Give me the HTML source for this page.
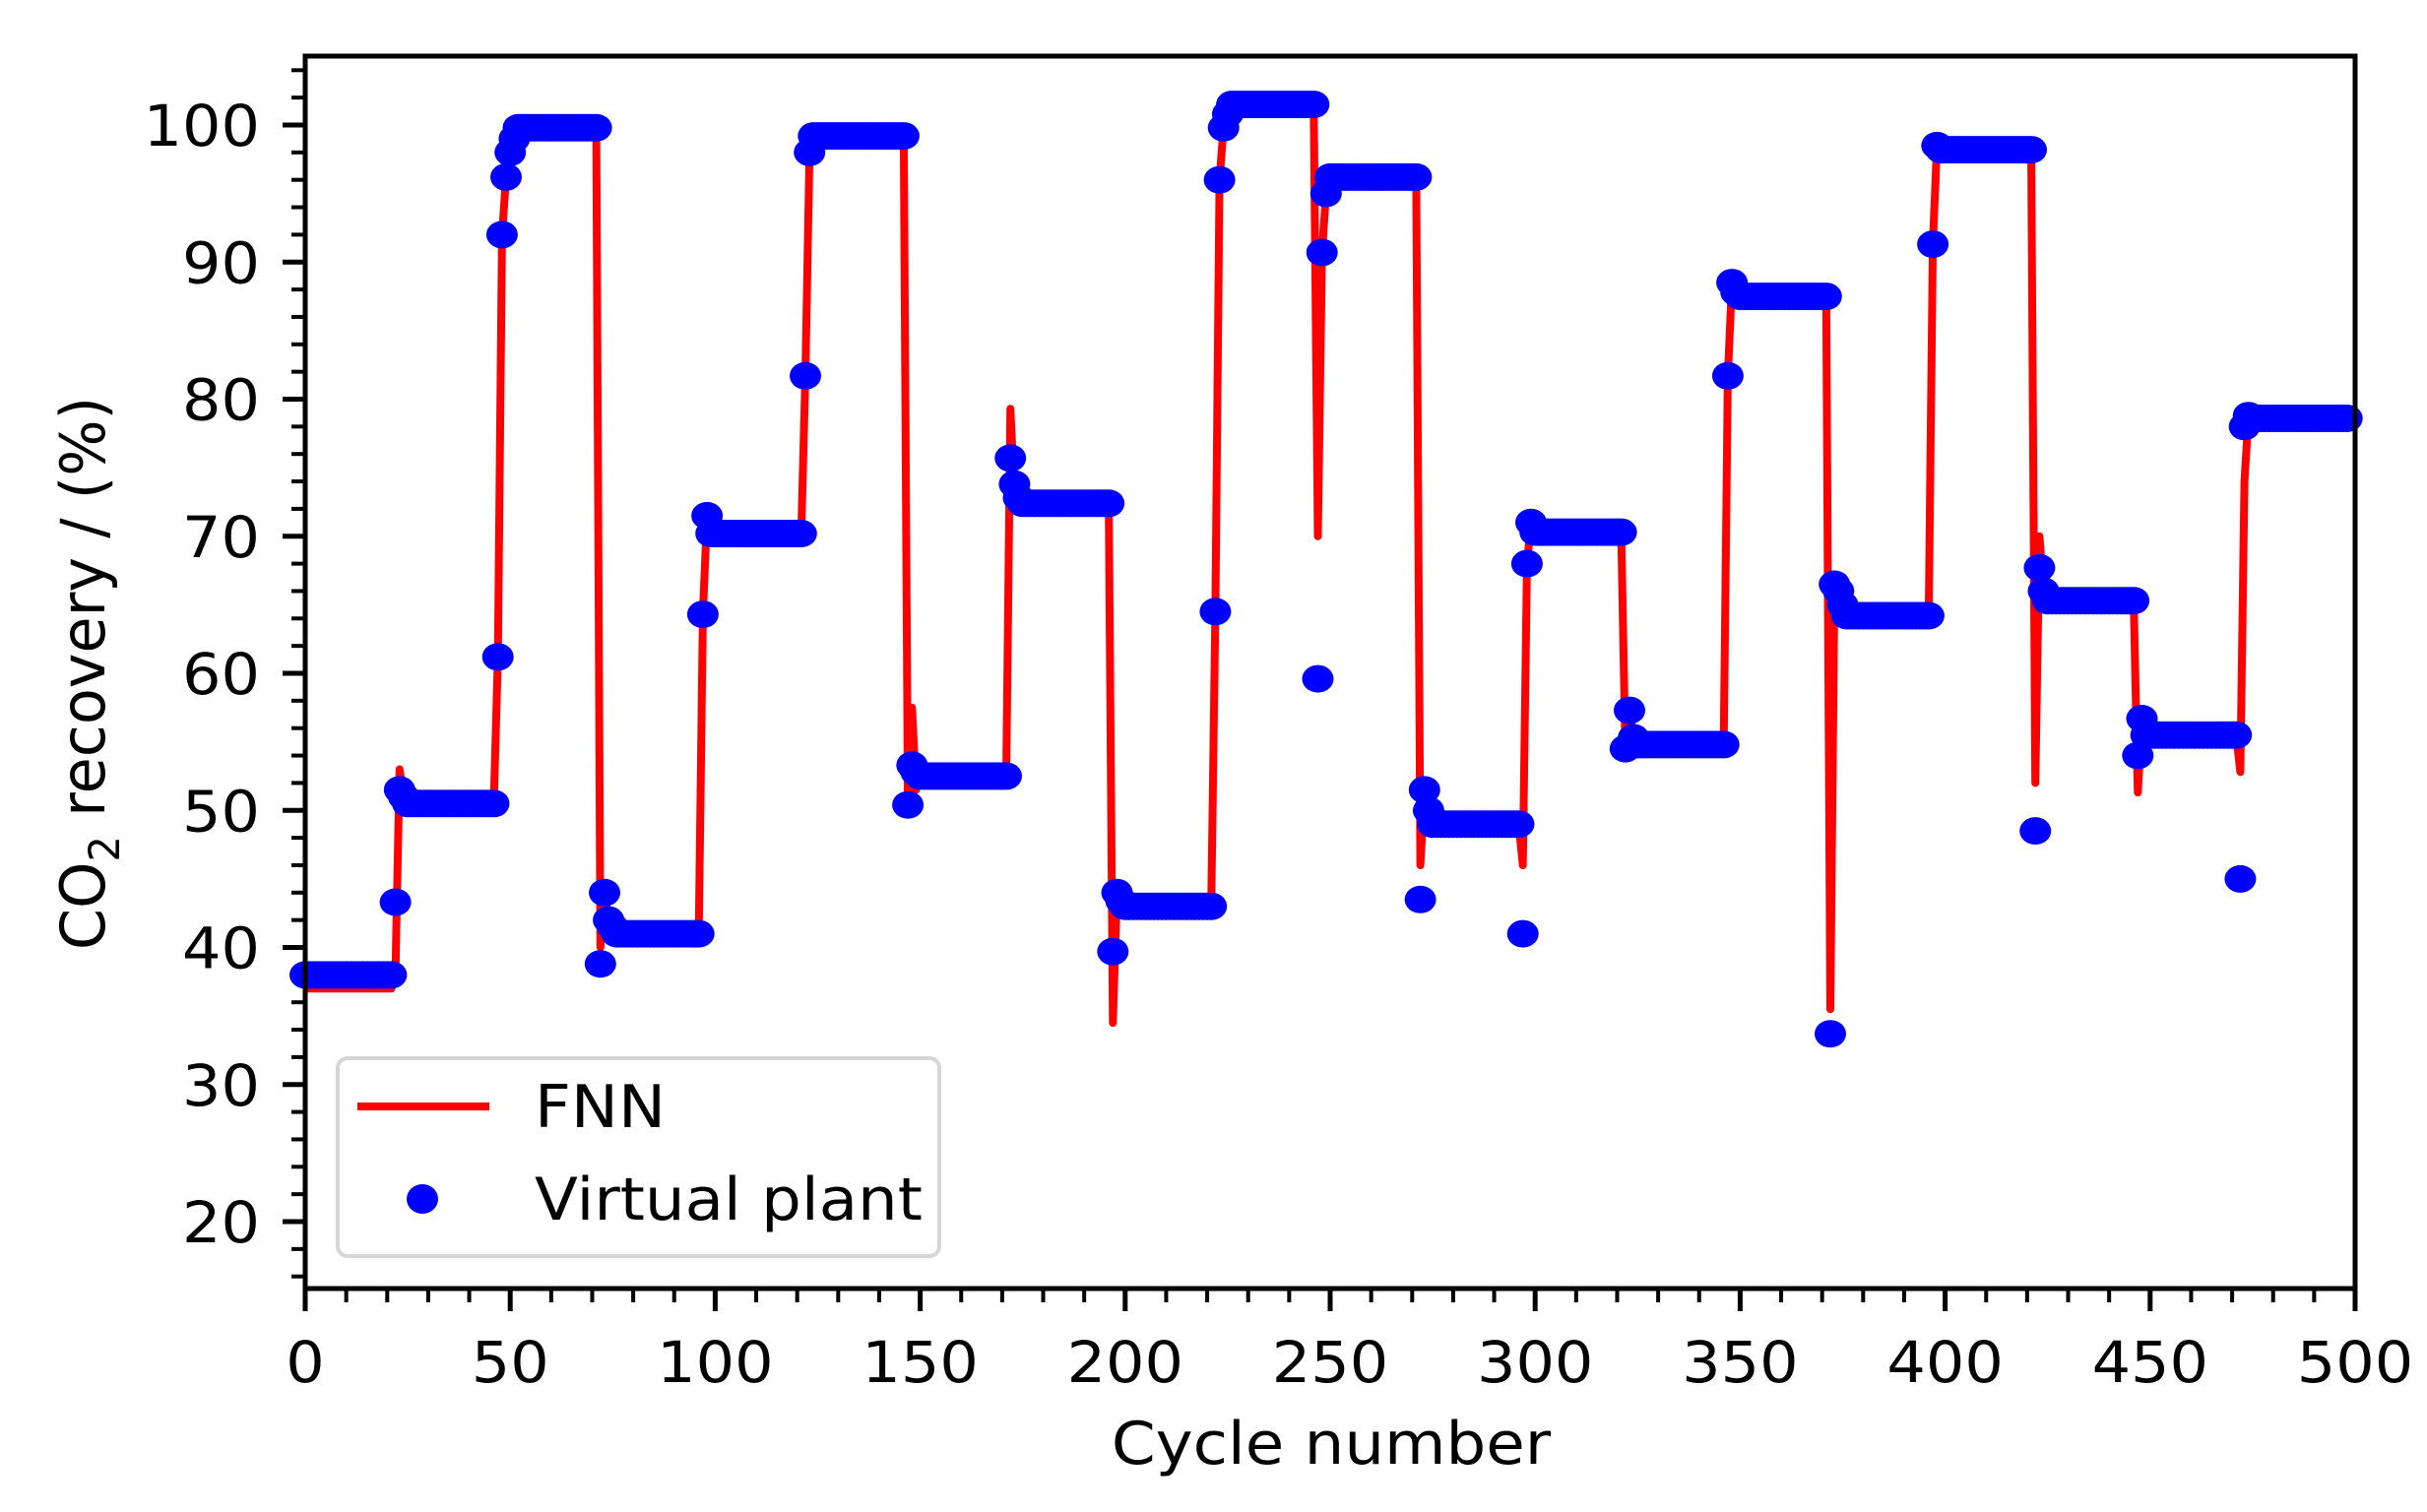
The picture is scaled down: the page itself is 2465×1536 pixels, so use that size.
<!DOCTYPE html>
<html><head><meta charset="utf-8"><style>
html,body{margin:0;padding:0;background:#fff}
svg{display:block}
text{font-family:"DejaVu Sans","Liberation Sans",sans-serif;fill:#000}
</style></head><body>
<svg id="s" width="2465" height="1536" viewBox="0 0 2465 1536" xmlns="http://www.w3.org/2000/svg"></svg>
<script>
const L=310,R=2392,T=57,B=1309;
const X=v=>L+v*(R-L)/500;
const Y=v=>1241-(v-20)*13.925;
let h='';
const segs=[
 [0,[],38,{}],
 [22,[43.3,51.5,51],50.5,{22:38,23:53,24:51}],
 [47,[61.2,92,96.2,98,99],99.8,{}],
 [72,[38.8,44,42,41.5],41,{72:40}],
 [97,[64.3,71.5],70.2,{}],
 [122,[81.7,98],99.2,{}],
 [147,[50.4,53.3,52.8],52.5,{148:57.5,149:51.5}],
 [172,[75.7,73.8,72.8],72.4,{172:79.3,173:73}],
 [197,[39.7,44,43.4],43,{197:34.5}],
 [222,[64.5,96,99.8,100.8],101.5,{}],
 [247,[59.6,90.7,95],96.2,{247:70}],
 [272,[43.5,51.5,50],49,{272:46}],
 [297,[41,68,71],70.3,{297:46}],
 [322,[54.5,57.3,55.3],54.8,{}],
 [347,[81.7,88.5,87.8],87.5,{}],
 [372,[33.7,66.5,66,65],64.2,{372:35.5}],
 [397,[91.3,98.5],98.2,{}],
 [422,[48.5,67.7,66],65.3,{422:52,423:70}],
 [447,[54,56.7],55.5,{447:51.3}],
 [472,[45,78,78.8],78.6,{472:52.8,473:74}],
];
const vp=[],fnn=[];
for(let k=0;k<segs.length;k++){
 const [s,d,st,ov]=segs[k];const e=k+1<segs.length?segs[k+1][0]:500;
 for(let i=s;i<e;i++){const j=i-s;vp[i]=j<d.length?d[j]:st;fnn[i]=ov[i]!==undefined?ov[i]:(j<d.length?d[j]:st);}
}
for(let i=0;i<22;i++)fnn[i]=37;
const T1=(x,y,s,anc,txt)=>`<text transform="translate(${x},${y}) scale(1.07,1)" font-size="${s}" text-anchor="${anc}">${txt}</text>`;
for(let v=16;v<=104;v+=2){const y=Y(v);const maj=v%10==0;h+=`<line x1="${L-(maj?23:14)}" y1="${y}" x2="${L}" y2="${y}" stroke="#000" stroke-width="${maj?5:4}"/>`;
 if(maj)h+=T1(264,y+21,58,'end',v);}
for(let v=0;v<=500;v+=10){const x=X(v);const maj=v%50==0;h+=`<line x1="${x}" y1="${B}" x2="${x}" y2="${B+(maj?23:14)}" stroke="#000" stroke-width="${maj?5:4}"/>`;
 if(maj)h+=T1(x,1404,58,'middle',v);}
let p='';for(let i=0;i<499;i++)p+=(i?'L':'M')+X(i).toFixed(1)+','+Y(fnn[i]).toFixed(1);
p+='L'+X(499)+','+Y(fnn[498]);
h+=`<path d="${p}" fill="none" stroke="#ff0000" stroke-width="8" stroke-linejoin="round"/>`;
for(let i=0;i<499;i++)h+=`<ellipse cx="${X(i).toFixed(1)}" cy="${Y(vp[i]).toFixed(1)}" rx="16" ry="14" fill="#0000ff"/>`;
h+=`<rect x="${L}" y="${T}" width="${R-L}" height="${B-T}" fill="none" stroke="#000" stroke-width="5"/>`;
h+=`<rect x="343" y="1075" width="611" height="201" rx="10" fill="#fff" fill-opacity="0.8" stroke="#d6d6d6" stroke-width="4"/>`;
h+=`<line x1="363" y1="1124" x2="497" y2="1124" stroke="#ff0000" stroke-width="8"/>`;
h+=T1(543,1145,60,'start','FNN');
h+=`<ellipse cx="429" cy="1218" rx="16" ry="15" fill="#0000ff"/>`;
h+=T1(543,1239,60,'start','Virtual plant');
h+=T1(1352,1487,60,'middle','Cycle number');
h+=`<text transform="translate(106,684) rotate(-90) scale(1.04,1.07)" font-size="58" text-anchor="middle">CO<tspan font-size="40" dy="14">2</tspan><tspan dy="-14"> recovery / (%)</tspan></text>`;
document.getElementById('s').innerHTML=h;
</script>
</body></html>
